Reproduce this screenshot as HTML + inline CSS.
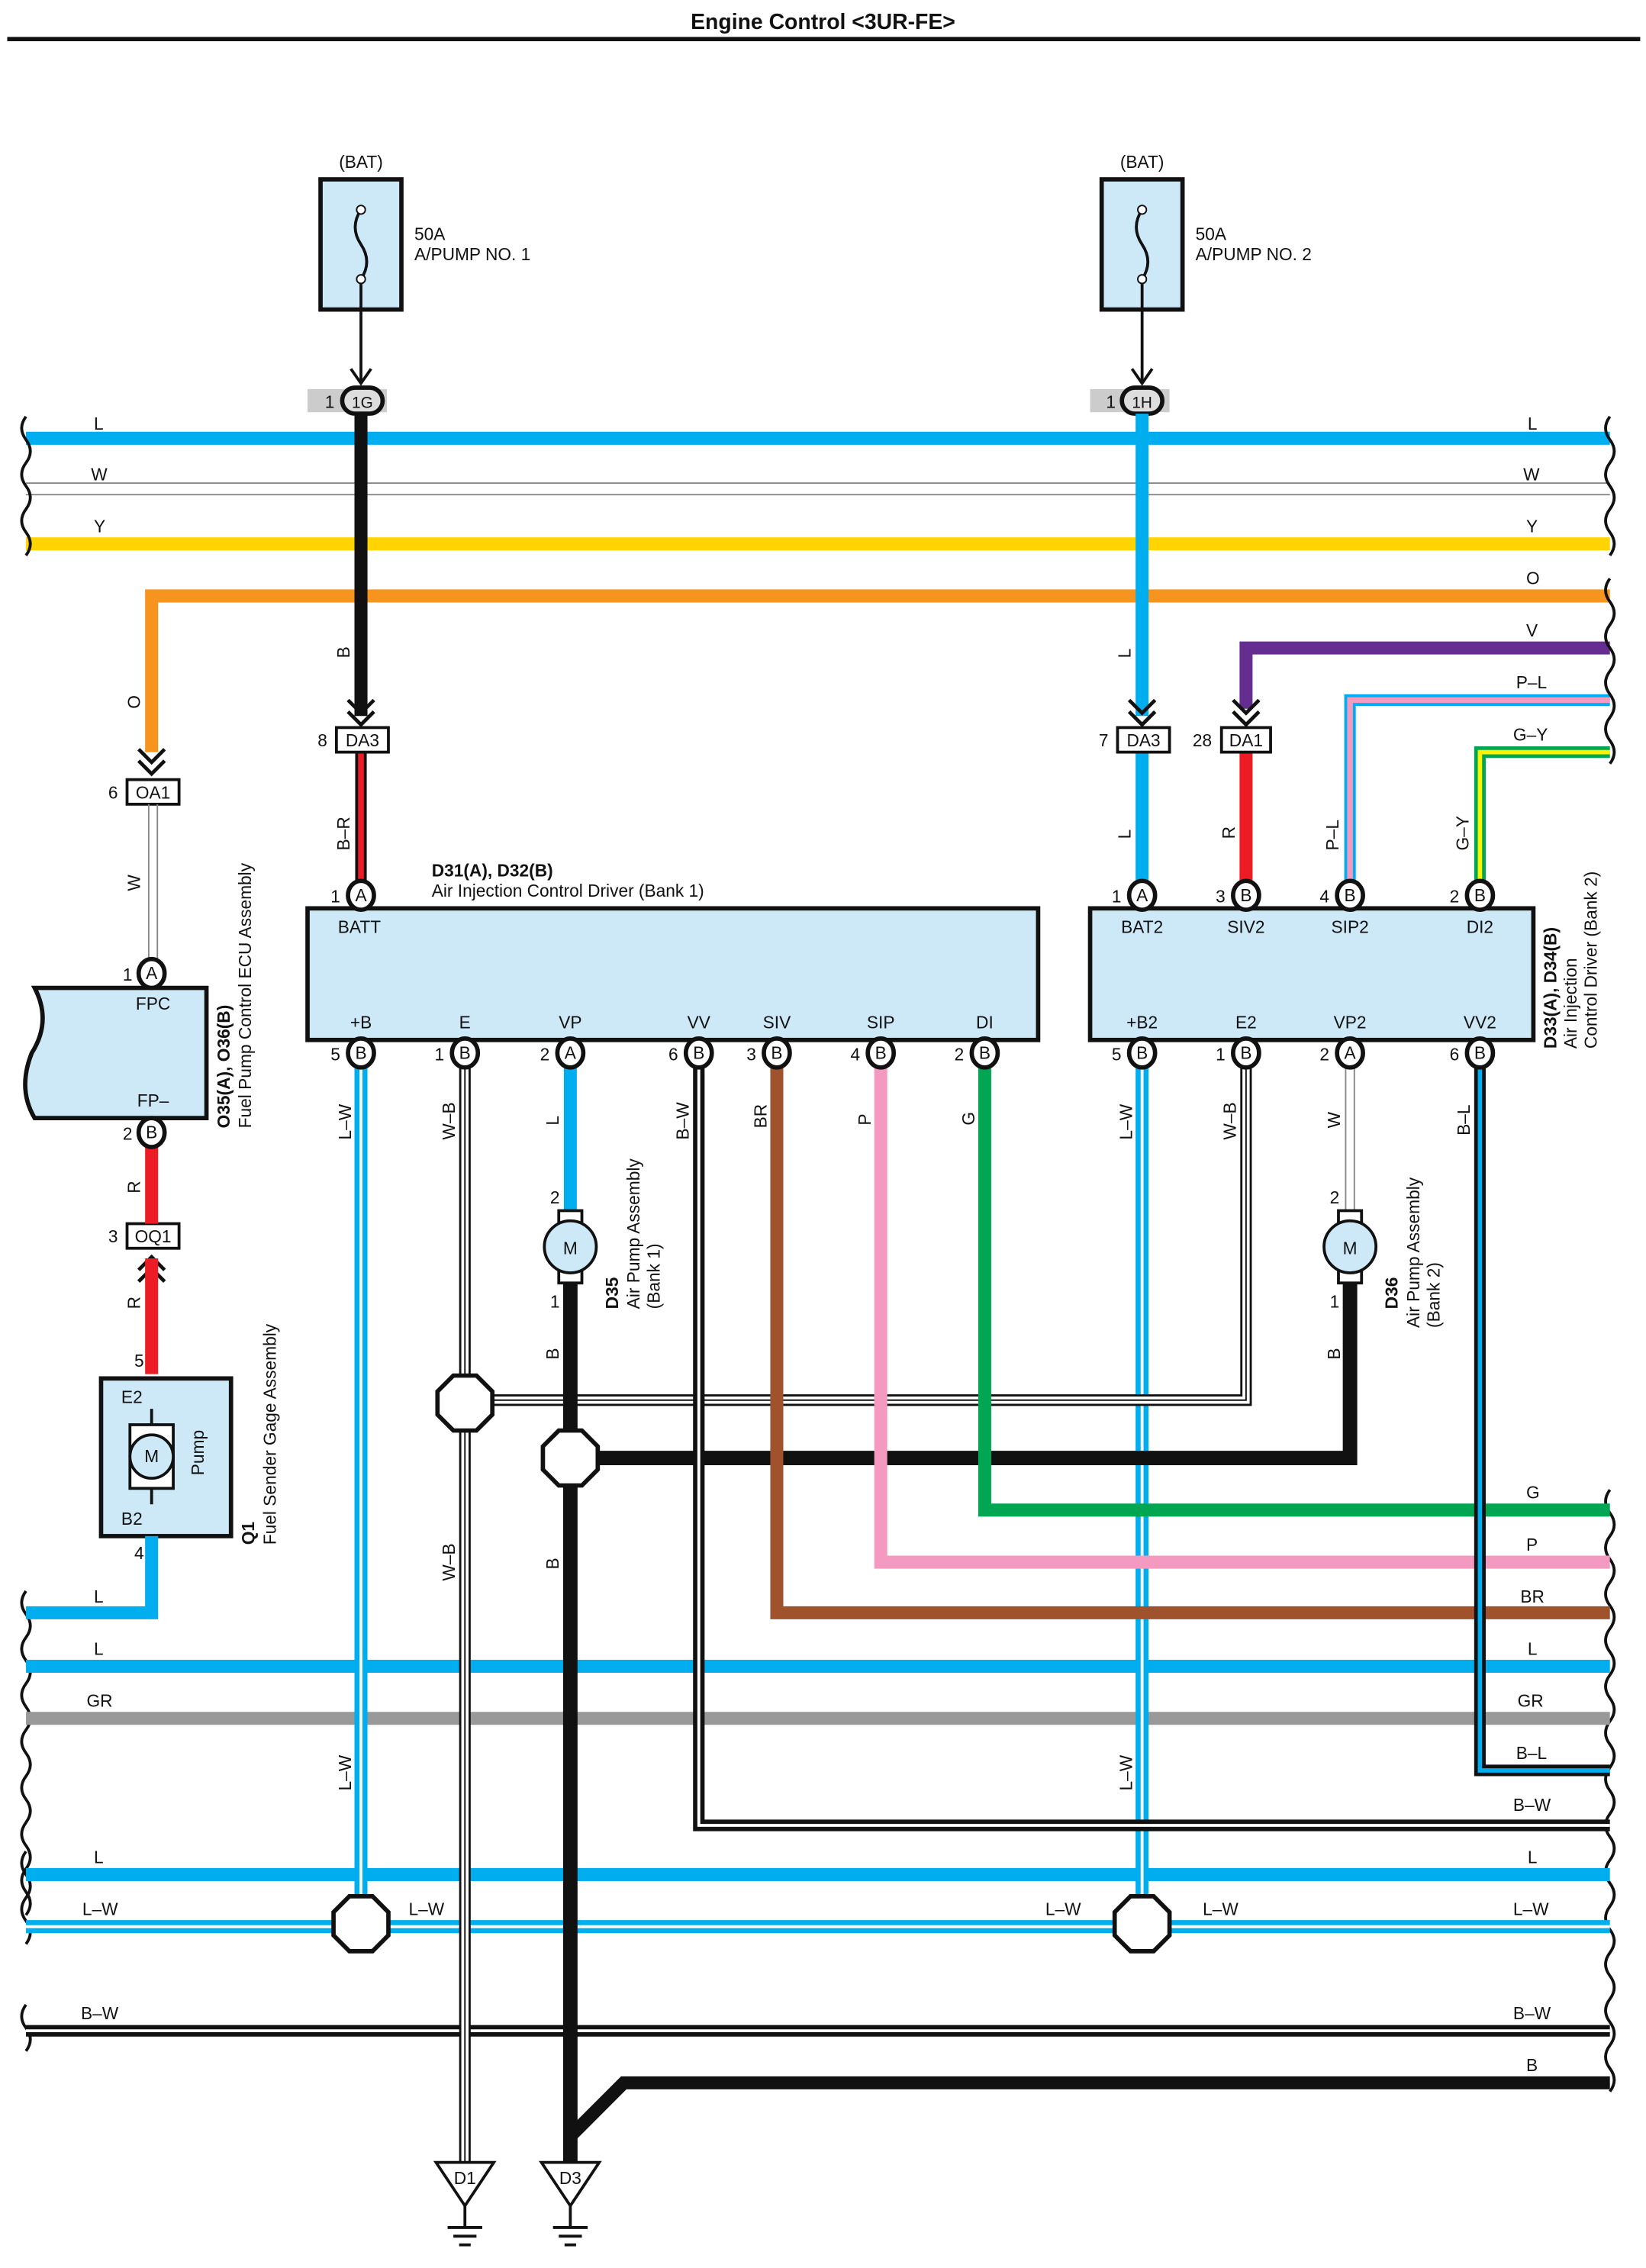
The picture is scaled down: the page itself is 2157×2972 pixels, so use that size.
<!DOCTYPE html>
<html><head><meta charset="utf-8"><style>
html,body{margin:0;padding:0;background:#fff}
svg{display:block}
text{font-family:"Liberation Sans",sans-serif;font-size:12px;fill:#111}
</style></head><body>
<svg width="2157" height="2972" viewBox="0 0 1140 1568" preserveAspectRatio="none" xmlns="http://www.w3.org/2000/svg">
<defs>
<g id="pin"><ellipse cx="0" cy="0" rx="9" ry="10" fill="#fff" stroke="#111" stroke-width="3"/></g>
<g id="oct"><polygon points="-8,-19 8,-19 19,-8 19,8 8,19 -8,19 -19,8 -19,-8" fill="#fff" stroke="#111" stroke-width="3"/></g>
</defs>
<text x="570" y="20" text-anchor="middle" font-weight="bold" style="font-size:15px">Engine Control &lt;3UR-FE&gt;</text>
<line x1="5" y1="27" x2="1136" y2="27" stroke="#111" stroke-width="3"/>

<!-- top buses -->
<line x1="18" y1="303" x2="1115" y2="303" stroke="#00aeef" stroke-width="9"/>
<line x1="18" y1="334" x2="1115" y2="334" stroke="#888" stroke-width="1"/>
<line x1="18" y1="342" x2="1115" y2="342" stroke="#888" stroke-width="1"/>
<line x1="18" y1="376" x2="1115" y2="376" stroke="#ffd400" stroke-width="9"/>
<path d="M1115 412 H105 V520" fill="none" stroke="#f7941d" stroke-width="9"/>
<path d="M1115 448 H863 V490" fill="none" stroke="#662d91" stroke-width="9"/>
<path d="M1115 484 H935 V612" fill="none" stroke="#00aeef" stroke-width="8"/>
<path d="M1115 484 H935 V612" fill="none" stroke="#f49ac1" stroke-width="4"/>
<path d="M1115 520 H1025 V612" fill="none" stroke="#00a651" stroke-width="8"/>
<path d="M1115 520 H1025 V612" fill="none" stroke="#fff200" stroke-width="3"/>
<g>
<text x="65" y="297">L</text><text x="63" y="332">W</text><text x="65" y="368">Y</text>
<text x="1058" y="297">L</text><text x="1055" y="332">W</text><text x="1057" y="368">Y</text>
<text x="1057" y="404">O</text><text x="1057" y="440">V</text><text x="1050" y="476">P–L</text><text x="1048" y="512">G–Y</text>
</g>
<!-- breaks -->
<g fill="none" stroke="#111" stroke-width="2">
<path d="M18 288 q-6 8 0 16 q6 8 0 16 q-6 8 0 16 q6 8 0 16 q-6 8 0 16 q6 8 0 16"/>
<path d="M1115 288 q-6 8 0 16 q6 8 0 16 q-6 8 0 16 q6 8 0 16 q-6 8 0 16 q6 8 0 16"/>
<path d="M1115 400 q-6 8 0 16 q6 8 0 16 q-6 8 0 16 q6 8 0 16 q-6 8 0 16 q6 8 0 16 q-6 8 0 16 q6 8 0 16"/>
<path d="M18 1100 q-6 8 0 16 q6 8 0 16 q-6 8 0 16 q6 8 0 16 q-6 8 0 16 q6 8 0 16 q-6 8 0 16 q6 8 0 16 q-6 8 0 16 q6 8 0 16 q-6 8 0 16 q6 8 0 16 q-6 8 0 16 q6 8 0 16"/>
<path d="M18 1280 q-6 8 0 16 q6 8 0 16 q-6 8 0 16 q6 8 0 16"/>
<path d="M18 1386 q-6 8 0 16 q6 8 0 16"/>
<path d="M1115 1030 q-6 8 0 16 q6 8 0 16 q-6 8 0 16 q6 8 0 16 q-6 8 0 16 q6 8 0 16 q-6 8 0 16 q6 8 0 16 q-6 8 0 16 q6 8 0 16 q-6 8 0 16 q6 8 0 16 q-6 8 0 16 q6 8 0 16 q-6 8 0 16 q6 8 0 16 q-6 8 0 16 q6 8 0 16 q-6 8 0 16 q6 8 0 16 q-6 8 0 16 q6 8 0 16 q-6 8 0 16 q6 8 0 16 q-6 8 0 16 q6 8 0 16"/>
</g>

<!-- fuses -->
<g>
<text x="250" y="116" text-anchor="middle">(BAT)</text>
<rect x="222" y="124" width="56" height="90" fill="#cde8f7" stroke="#111" stroke-width="3"/>
<path d="M250 145 q-8 12 0 24 q8 12 0 24" fill="none" stroke="#111" stroke-width="2"/>
<circle cx="250" cy="145" r="3" fill="#fff" stroke="#111"/><circle cx="250" cy="193" r="3" fill="#fff" stroke="#111"/>
<line x1="250" y1="196" x2="250" y2="265" stroke="#111" stroke-width="2"/>
<path d="M243 255 l7 10 l7 -10" fill="none" stroke="#111" stroke-width="2"/>
<text x="287" y="166">50A</text><text x="287" y="180">A/PUMP NO. 1</text>
<rect x="213" y="269" width="55" height="16" fill="#ccc"/>
<rect x="237" y="268" width="28" height="18" rx="9" fill="#ddd" stroke="#111" stroke-width="3"/>
<text x="251" y="282" text-anchor="middle" style="font-size:11px">1G</text><text x="225" y="282">1</text>

<text x="791" y="116" text-anchor="middle">(BAT)</text>
<rect x="763" y="124" width="56" height="90" fill="#cde8f7" stroke="#111" stroke-width="3"/>
<path d="M791 145 q-8 12 0 24 q8 12 0 24" fill="none" stroke="#111" stroke-width="2"/>
<circle cx="791" cy="145" r="3" fill="#fff" stroke="#111"/><circle cx="791" cy="193" r="3" fill="#fff" stroke="#111"/>
<line x1="791" y1="196" x2="791" y2="265" stroke="#111" stroke-width="2"/>
<path d="M784 255 l7 10 l7 -10" fill="none" stroke="#111" stroke-width="2"/>
<text x="828" y="166">50A</text><text x="828" y="180">A/PUMP NO. 2</text>
<rect x="755" y="269" width="55" height="16" fill="#ccc"/>
<rect x="777" y="268" width="28" height="18" rx="9" fill="#ddd" stroke="#111" stroke-width="3"/>
<text x="791" y="282" text-anchor="middle" style="font-size:11px">1H</text><text x="766" y="282">1</text>
</g>

<!-- drops to DA3 -->
<line x1="250" y1="286" x2="250" y2="495" stroke="#111" stroke-width="9"/>
<line x1="791" y1="286" x2="791" y2="495" stroke="#00aeef" stroke-width="9"/>
<g fill="none" stroke="#111" stroke-width="2.5">
<path d="M241 484 l9 9 l9 -9 M241 492 l9 9 l9 -9"/>
<path d="M782 484 l9 9 l9 -9 M782 492 l9 9 l9 -9"/>
<path d="M854 484 l9 9 l9 -9 M854 492 l9 9 l9 -9"/>
<path d="M96 518 l9 9 l9 -9 M96 526 l9 9 l9 -9"/>
<path d="M96 878 l9 -9 l9 9 M96 886 l9 -9 l9 9"/>
</g>
<line x1="250" y1="520" x2="250" y2="612" stroke="#111" stroke-width="8"/>
<line x1="250" y1="520" x2="250" y2="612" stroke="#ed1c24" stroke-width="4"/>
<line x1="791" y1="520" x2="791" y2="612" stroke="#00aeef" stroke-width="9"/>
<line x1="863" y1="520" x2="863" y2="612" stroke="#ed1c24" stroke-width="9"/>
<g fill="#fff" stroke="#111" stroke-width="2">
<rect x="233" y="503" width="36" height="17"/><rect x="774" y="503" width="36" height="17"/><rect x="846" y="503" width="34" height="17"/>
<rect x="88" y="539" width="36" height="17"/><rect x="88" y="846" width="36" height="17"/>
</g>
<text x="251" y="516" text-anchor="middle">DA3</text><text x="220" y="516">8</text>
<text x="792" y="516" text-anchor="middle">DA3</text><text x="761" y="516">7</text>
<text x="863" y="516" text-anchor="middle">DA1</text><text x="826" y="516">28</text>
<text x="106" y="552" text-anchor="middle">OA1</text><text x="75" y="552">6</text>
<text x="106" y="859" text-anchor="middle">OQ1</text><text x="75" y="859">3</text>

<!-- wire labels rotated -->
<g>
<text transform="translate(242,455) rotate(-90)">B</text>
<text transform="translate(242,588) rotate(-90)">B–R</text>
<text transform="translate(783,455) rotate(-90)">L</text>
<text transform="translate(783,580) rotate(-90)">L</text>
<text transform="translate(855,580) rotate(-90)">R</text>
<text transform="translate(927,588) rotate(-90)">P–L</text>
<text transform="translate(1017,588) rotate(-90)">G–Y</text>
<text transform="translate(97,490) rotate(-90)">O</text>
<text transform="translate(97,616) rotate(-90)">W</text>
<text transform="translate(97,825) rotate(-90)">R</text>
<text transform="translate(97,905) rotate(-90)">R</text>
</g>

<!-- fuel pump ECU -->
<line x1="103" y1="556" x2="103" y2="664" stroke="#888" stroke-width="1"/>
<line x1="109" y1="556" x2="109" y2="664" stroke="#888" stroke-width="1"/>
<path d="M24 683 H143 V773 H24 q-12 -20 -2 -45 q14 -22 2 -45 z" fill="#cde8f7" stroke="#111" stroke-width="3"/>
<text x="106" y="698" text-anchor="middle">FPC</text><text x="106" y="765" text-anchor="middle">FP–</text>
<line x1="105" y1="792" x2="105" y2="846" stroke="#ed1c24" stroke-width="9"/>
<line x1="105" y1="870" x2="105" y2="950" stroke="#ed1c24" stroke-width="9"/>
<use href="#pin" x="105" y="673"/><text x="105" y="677" text-anchor="middle">A</text><text x="85" y="678">1</text>
<use href="#pin" x="105" y="783"/><text x="105" y="787" text-anchor="middle">B</text><text x="85" y="788">2</text>
<text transform="translate(159,780) rotate(-90)" font-weight="bold">O35(A), O36(B)</text>
<text transform="translate(174,780) rotate(-90)">Fuel Pump Control ECU Assembly</text>
<text x="93" y="945">5</text>
<rect x="70" y="953" width="90" height="109" fill="#cde8f7" stroke="#111" stroke-width="3"/>
<line x1="105" y1="974" x2="105" y2="1040" stroke="#111" stroke-width="2"/>
<rect x="90" y="985" width="30" height="44" fill="#fff" stroke="#111" stroke-width="2"/>
<circle cx="105" cy="1007" r="15" fill="#cde8f7" stroke="#111" stroke-width="2"/>
<text x="105" y="1011" text-anchor="middle">M</text>
<text x="84" y="970">E2</text><text x="84" y="1054">B2</text>
<text transform="translate(141,1020) rotate(-90)">Pump</text>
<text x="93" y="1078">4</text>
<path d="M105 1062 V1115 H18" fill="none" stroke="#00aeef" stroke-width="9"/>
<text x="65" y="1108">L</text>
<text transform="translate(176,1068) rotate(-90)" font-weight="bold">Q1</text>
<text transform="translate(191,1068) rotate(-90)">Fuel Sender Gage Assembly</text>

<!-- bottom buses -->
<line x1="18" y1="1152" x2="1115" y2="1152" stroke="#00aeef" stroke-width="9"/>
<line x1="18" y1="1188" x2="1115" y2="1188" stroke="#999" stroke-width="9"/>
<line x1="18" y1="1296" x2="1115" y2="1296" stroke="#00aeef" stroke-width="9"/>
<line x1="18" y1="1332" x2="1115" y2="1332" stroke="#00aeef" stroke-width="9"/>
<line x1="18" y1="1332" x2="1115" y2="1332" stroke="#fff" stroke-width="2"/>
<line x1="18" y1="1404" x2="1115" y2="1404" stroke="#111" stroke-width="8"/>
<line x1="18" y1="1404" x2="1115" y2="1404" stroke="#fff" stroke-width="2"/>
<path d="M1115 1440 H432 L395 1477" fill="none" stroke="#111" stroke-width="9"/>

<!-- drops from drivers -->
<line x1="250" y1="737" x2="250" y2="1330" stroke="#00aeef" stroke-width="9"/>
<line x1="250" y1="737" x2="250" y2="1330" stroke="#fff" stroke-width="2"/>
<line x1="791" y1="737" x2="791" y2="1330" stroke="#00aeef" stroke-width="9"/>
<line x1="791" y1="737" x2="791" y2="1330" stroke="#fff" stroke-width="2"/>
<line x1="322" y1="737" x2="322" y2="1495" stroke="#111" stroke-width="8"/>
<line x1="322" y1="737" x2="322" y2="1495" stroke="#fff" stroke-width="5"/>
<line x1="322" y1="737" x2="322" y2="1495" stroke="#111" stroke-width="1"/>
<path d="M863 737 V968 H322" fill="none" stroke="#111" stroke-width="8"/>
<path d="M863 737 V968 H322" fill="none" stroke="#fff" stroke-width="5"/>
<path d="M863 737 V968 H322" fill="none" stroke="#111" stroke-width="1"/>
<line x1="395" y1="737" x2="395" y2="845" stroke="#00aeef" stroke-width="9"/>
<line x1="395" y1="880" x2="395" y2="1495" stroke="#111" stroke-width="10"/>
<line x1="932" y1="737" x2="932" y2="845" stroke="#888" stroke-width="1"/>
<line x1="938" y1="737" x2="938" y2="845" stroke="#888" stroke-width="1"/>
<path d="M935 880 V1008 H395" fill="none" stroke="#111" stroke-width="10"/>
<path d="M484 737 V1262 H1115" fill="none" stroke="#111" stroke-width="8"/>
<path d="M484 737 V1262 H1115" fill="none" stroke="#fff" stroke-width="2"/>
<path d="M538 737 V1115 H1115" fill="none" stroke="#a0522d" stroke-width="9"/>
<path d="M610 737 V1080 H1115" fill="none" stroke="#f49ac1" stroke-width="9"/>
<path d="M682 737 V1044 H1115" fill="none" stroke="#00a651" stroke-width="9"/>
<path d="M1025 737 V1224 H1115" fill="none" stroke="#111" stroke-width="8"/>
<path d="M1025 737 V1224 H1115" fill="none" stroke="#00aeef" stroke-width="3"/>

<!-- motors -->
<g>
<rect x="387" y="837" width="16" height="50" fill="#fff" stroke="#111" stroke-width="2"/>
<circle cx="395" cy="862" r="18" fill="#cde8f7" stroke="#111" stroke-width="2"/>
<text x="395" y="867" text-anchor="middle">M</text>
<text x="381" y="832">2</text><text x="381" y="904">1</text>
<rect x="927" y="837" width="16" height="50" fill="#fff" stroke="#111" stroke-width="2"/>
<circle cx="935" cy="862" r="18" fill="#cde8f7" stroke="#111" stroke-width="2"/>
<text x="935" y="867" text-anchor="middle">M</text>
<text x="921" y="832">2</text><text x="921" y="904">1</text>
<text transform="translate(428,905) rotate(-90)" font-weight="bold">D35</text>
<text transform="translate(443,905) rotate(-90)">Air Pump Assembly</text>
<text transform="translate(457,905) rotate(-90)">(Bank 1)</text>
<text transform="translate(968,905) rotate(-90)" font-weight="bold">D36</text>
<text transform="translate(983,918) rotate(-90)">Air Pump Assembly</text>
<text transform="translate(997,918) rotate(-90)">(Bank 2)</text>
</g>

<!-- splices -->
<use href="#oct" x="322" y="970"/><use href="#oct" x="395" y="1008"/>
<use href="#oct" x="250" y="1330"/><use href="#oct" x="791" y="1330"/>

<!-- grounds -->
<g stroke="#111" stroke-width="2" fill="#fff">
<polygon points="302,1495 342,1495 322,1525"/><polygon points="375,1495 415,1495 395,1525"/>
<line x1="322" y1="1525" x2="322" y2="1540"/><line x1="310" y1="1540" x2="334" y2="1540"/><line x1="314" y1="1546" x2="330" y2="1546"/><line x1="318" y1="1552" x2="326" y2="1552"/>
<line x1="395" y1="1525" x2="395" y2="1540"/><line x1="383" y1="1540" x2="407" y2="1540"/><line x1="387" y1="1546" x2="403" y2="1546"/><line x1="391" y1="1552" x2="399" y2="1552"/>
</g>
<text x="322" y="1510" text-anchor="middle">D1</text><text x="395" y="1510" text-anchor="middle">D3</text>

<!-- driver boxes -->
<rect x="213" y="628" width="506" height="91" fill="#cde8f7" stroke="#111" stroke-width="3"/>
<rect x="755" y="628" width="307" height="91" fill="#cde8f7" stroke="#111" stroke-width="3"/>
<text x="299" y="606" font-weight="bold">D31(A), D32(B)</text>
<text x="299" y="620">Air Injection Control Driver (Bank 1)</text>
<text x="234" y="645">BATT</text>
<g text-anchor="middle">
<text x="250" y="711">+B</text><text x="322" y="711">E</text><text x="395" y="711">VP</text><text x="484" y="711">VV</text><text x="538" y="711">SIV</text><text x="610" y="711">SIP</text><text x="682" y="711">DI</text>
<text x="791" y="645">BAT2</text><text x="863" y="645">SIV2</text><text x="935" y="645">SIP2</text><text x="1025" y="645">DI2</text>
<text x="791" y="711">+B2</text><text x="863" y="711">E2</text><text x="935" y="711">VP2</text><text x="1025" y="711">VV2</text>
</g>
<text transform="translate(1078,725) rotate(-90)" font-weight="bold">D33(A), D34(B)</text>
<text transform="translate(1092,725) rotate(-90)">Air Injection</text>
<text transform="translate(1106,725) rotate(-90)">Control Driver (Bank 2)</text>

<!-- pins -->
<g>
<use href="#pin" x="250" y="619"/><use href="#pin" x="791" y="619"/><use href="#pin" x="863" y="619"/><use href="#pin" x="935" y="619"/><use href="#pin" x="1025" y="619"/>
<use href="#pin" x="250" y="728"/><use href="#pin" x="322" y="728"/><use href="#pin" x="395" y="728"/><use href="#pin" x="484" y="728"/><use href="#pin" x="538" y="728"/><use href="#pin" x="610" y="728"/><use href="#pin" x="682" y="728"/>
<use href="#pin" x="791" y="728"/><use href="#pin" x="863" y="728"/><use href="#pin" x="935" y="728"/><use href="#pin" x="1025" y="728"/>
</g>
<g text-anchor="middle" style="font-size:11px">
<text x="250" y="623">A</text><text x="791" y="623">A</text><text x="863" y="623">B</text><text x="935" y="623">B</text><text x="1025" y="623">B</text>
<text x="250" y="732">B</text><text x="322" y="732">B</text><text x="395" y="732">A</text><text x="484" y="732">B</text><text x="538" y="732">B</text><text x="610" y="732">B</text><text x="682" y="732">B</text>
<text x="791" y="732">B</text><text x="863" y="732">B</text><text x="935" y="732">A</text><text x="1025" y="732">B</text>
</g>
<g>
<text x="229" y="624">1</text><text x="770" y="624">1</text><text x="842" y="624">3</text><text x="914" y="624">4</text><text x="1004" y="624">2</text>
<text x="229" y="733">5</text><text x="301" y="733">1</text><text x="374" y="733">2</text><text x="463" y="733">6</text><text x="517" y="733">3</text><text x="589" y="733">4</text><text x="661" y="733">2</text>
<text x="770" y="733">5</text><text x="842" y="733">1</text><text x="914" y="733">2</text><text x="1004" y="733">6</text>
</g>

<!-- vertical wire labels below drivers -->
<g>
<text transform="translate(243,788) rotate(-90)">L–W</text>
<text transform="translate(315,788) rotate(-90)">W–B</text>
<text transform="translate(387,778) rotate(-90)">L</text>
<text transform="translate(477,788) rotate(-90)">B–W</text>
<text transform="translate(531,780) rotate(-90)">BR</text>
<text transform="translate(603,778) rotate(-90)">P</text>
<text transform="translate(675,778) rotate(-90)">G</text>
<text transform="translate(784,788) rotate(-90)">L–W</text>
<text transform="translate(856,788) rotate(-90)">W–B</text>
<text transform="translate(928,780) rotate(-90)">W</text>
<text transform="translate(1018,785) rotate(-90)">B–L</text>
<text transform="translate(387,940) rotate(-90)">B</text>
<text transform="translate(928,940) rotate(-90)">B</text>
<text transform="translate(387,1085) rotate(-90)">B</text>
<text transform="translate(315,1093) rotate(-90)">W–B</text>
<text transform="translate(243,1238) rotate(-90)">L–W</text>
<text transform="translate(784,1238) rotate(-90)">L–W</text>
</g>

<!-- bus labels -->
<g>
<text x="65" y="1144">L</text><text x="60" y="1180">GR</text><text x="65" y="1288">L</text><text x="57" y="1324">L–W</text><text x="56" y="1396">B–W</text>
<text x="283" y="1324">L–W</text><text x="724" y="1324">L–W</text><text x="833" y="1324">L–W</text>
<text x="1057" y="1036">G</text><text x="1057" y="1072">P</text><text x="1053" y="1108">BR</text><text x="1058" y="1144">L</text><text x="1051" y="1180">GR</text>
<text x="1050" y="1216">B–L</text><text x="1048" y="1252">B–W</text><text x="1058" y="1288">L</text><text x="1048" y="1324">L–W</text><text x="1048" y="1396">B–W</text><text x="1057" y="1432">B</text>
</g>
</svg>
</body></html>
